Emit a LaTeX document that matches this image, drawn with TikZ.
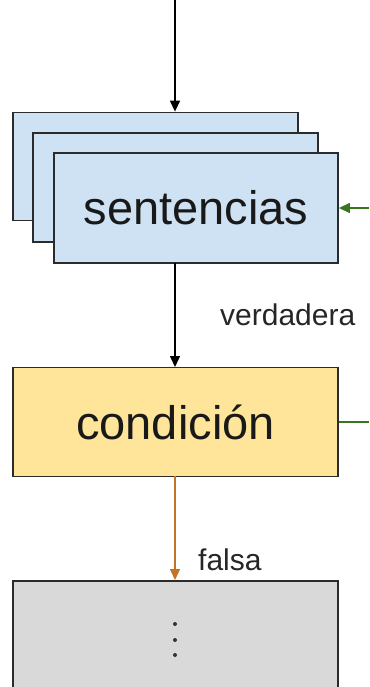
\documentclass[tikz,border=0pt]{standalone}
\usepackage{fontspec}
\setmainfont{Liberation Sans}
\usetikzlibrary{arrows.meta}
\definecolor{stmtblue}{HTML}{CFE2F3}
\definecolor{condyellow}{HTML}{FFE599}
\definecolor{restgray}{HTML}{D9D9D9}
\definecolor{loopgreen}{HTML}{38761D}
\definecolor{exitorange}{HTML}{C27424}
\definecolor{edgegray}{HTML}{2B2B2B}
\tikzset{
  box/.style={draw=edgegray, line width=1.8pt, inner sep=0pt, text=black!90,
    font=\fontsize{47}{56}\selectfont},
  flow/.style={line width=1.4pt, -{Triangle[width=10pt,length=11pt]}},
  lbl/.style={font=\fontsize{30}{36}\selectfont, text=black!85, inner sep=0pt},
  dot/.style={circle, fill=black!80, inner sep=0pt, minimum size=4pt}
}
\begin{document}
\begin{tikzpicture}[x=1pt, y=-1pt]
  \useasboundingbox (0,0) rectangle (369,687);
  \clip (0,0) rectangle (369,687);
  % stacked statement boxes
  \node[box, fill=stmtblue, minimum width=285, minimum height=108] (back) at (155.5,166.5) {};
  \node[box, fill=stmtblue, minimum width=285, minimum height=109] (mid) at (175.5,187.5) {};
  \node[box, fill=stmtblue, minimum width=284, minimum height=110] (sent) at (196,208) {sentencias};
  % condition and what follows the loop
  \node[box, fill=condyellow, minimum width=325, minimum height=109] (cond) at (175.5,422) {condición};
  \node[box, fill=restgray, minimum width=325, minimum height=130, anchor=north] (rest) at (175.5,580) {};
  \node[dot] (d1) at (175,624) {};
  \node[dot] (d2) at (175,640) {};
  \node[dot] (d3) at (175,655) {};
  % free ends of the connectors
  \coordinate (in) at (175,0);
  \coordinate (loopin) at (369,208);
  \coordinate (loopout) at (369,422);
  \coordinate (sentbot) at (175,263);
  \coordinate (condtop) at (175,367);
  \coordinate (condbot) at (175,476);
  \coordinate (resttop) at (175,580);
  % connectors
  \draw[flow] (in) -- (in |- back.north);
  \draw[flow] (sentbot) -- (condtop);
  \draw[flow, color=exitorange] (condbot) -- (resttop);
  \draw[flow, color=loopgreen] (loopin) -- (sent.east);
  \draw[line width=1.4pt, color=loopgreen] (cond.east) -- (loopout);
  % labels
  \node[lbl, anchor=west] (vlbl) at (220,315) {verdadera};
  \node[lbl, anchor=west] (flbl) at (198,560) {falsa};
\end{tikzpicture}
\end{document}
